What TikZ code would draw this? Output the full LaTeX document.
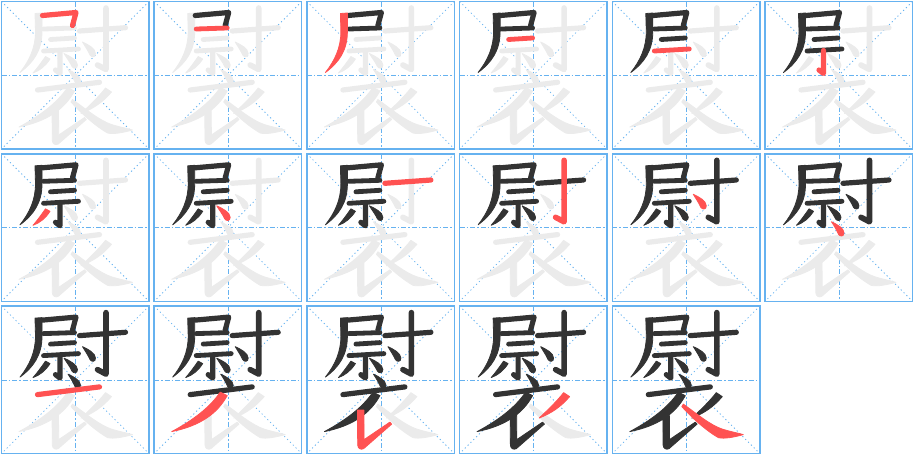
\documentclass[tikz,border=0pt]{standalone}
\definecolor{gridc}{RGB}{102,178,240}
\definecolor{inkc}{RGB}{51,51,51}
\definecolor{redc}{RGB}{255,82,82}
\definecolor{bgc}{RGB}{235,235,235}
\tikzset{
  ln/.style={line width=5.2pt, line cap=round, line join=round},
  fl/.style={fill, line width=0.8pt, line join=round},
  s1/.style={ln, insert path={(41,14) -- (74.5,11) -- (71,24)}},
  s2/.style={ln, line width=4.8pt, insert path={(42,27.5) -- (73,26.5)}},
  s3/.style={fl, insert path={(33.5,12) -- (40.5,11.5) -- (40.5,30) .. controls (40.5,49) and (32,61) .. (18.5,71) .. controls (28,59) and (34,46) .. (34,30) -- cycle}},
  s4/.style={ln, line width=4.8pt, insert path={(49,38) -- (73,36.5)}},
  s5/.style={ln, line width=4.8pt, insert path={(42,49.5) -- (77,47.5)}},
  s6/.style={ln, insert path={(58.5,49) -- (58.5,72) -- (54,68.5)}},
  s7/.style={fl, insert path={(44,55) -- (48.5,57.5) .. controls (44,64.5) and (38.5,69) .. (31.5,71.5) .. controls (35.5,67) and (39.5,61.5) .. (44,55) -- cycle}},
  s8/.style={fl, insert path={(62.5,52) .. controls (68,54.5) and (76,58.5) .. (76,63.5) .. controls (76,67.5) and (72,67.5) .. (70.5,65) .. controls (68.5,60.5) and (65.5,57) .. (62.5,52) -- cycle}},
  s9/.style={ln, insert path={(78,29.5) -- (124,26.2)}},
  s10/.style={ln, line width=5.6pt, insert path={(104.5,6.5) -- (104.5,68) -- (96,63.5)}},
  s11/.style={fl, insert path={(81,40.5) .. controls (86.5,43) and (94,47) .. (94,52) .. controls (94,56) and (90,56) .. (88.5,53.5) .. controls (86.5,49) and (84,45.5) .. (81,40.5) -- cycle}},
  s12/.style={fl, insert path={(66.5,68) .. controls (72,70.5) and (79,74.5) .. (79,79) .. controls (79,83) and (75,83) .. (73.5,80.5) .. controls (71.5,76) and (69.5,72.5) .. (66.5,68) -- cycle}},
  s13/.style={ln, insert path={(36,88.5) -- (98,80.8)}},
  s14/.style={fl, insert path={(66,86) -- (73,89.5) .. controls (63,108) and (45,120) .. (17.5,125.5) .. controls (39,114) and (56,101) .. (66,86) -- cycle}},
  s15/.style={fl, insert path={(50.5,104) -- (57,104) -- (57.2,133.5) -- (83,116) -- (84.8,118) -- (56.8,142.5) .. controls (54,144) and (51,142.5) .. (50.8,139) -- cycle}},
  s16/.style={fl, insert path={(104,86.5) -- (110,90.5) .. controls (101,101) and (92,107) .. (79.5,112) .. controls (88,104) and (97,95.5) .. (104,86.5) -- cycle}},
  s17/.style={fl, insert path={(71,98) .. controls (85,108) and (98,119) .. (110,123) .. controls (118,125.5) and (126,127) .. (131,128.5) .. controls (122,131) and (112,133) .. (106,131.5) .. controls (93,124) and (79,111) .. (69.5,100.5) -- cycle}},
  frame/.style={gridc, line width=1.5pt},
  midline/.style={gridc, line width=0.8pt, dash pattern=on 5pt off 2pt on 1.5pt off 2pt},
  diagline/.style={gridc, line width=0.8pt, dash pattern=on 1.2pt off 2.8pt}
}
\begin{document}
\begin{tikzpicture}[x=1pt,y=-1pt]
\useasboundingbox (0,0) rectangle (915,456);
\foreach \k in {1,...,17}{
  \pgfmathtruncatemacro\cc{mod(\k-1,6)}
  \pgfmathtruncatemacro\rr{div(\k-1,6)}
  \begin{scope}[shift={(1.5+152.7*\cc,1.5+152.3*\rr)}]
    \draw[frame] (0,0) rectangle (147.5,147.5);
    \draw[midline] (74,0) -- (74,147.5) (0,74) -- (147.5,74);
    \draw[diagline] (0,0) -- (147.5,147.5) (147.5,0) -- (0,147.5);
    \foreach \i in {1,...,17}{
      \ifnum\i>\k \draw[color=bgc, s\i]; \fi
    }
    \foreach \i in {1,...,17}{
      \ifnum\i<\k \draw[color=inkc, s\i]; \fi
      \ifnum\i=\k \draw[color=redc, s\i]; \fi
    }
  \end{scope}
}
\end{tikzpicture}
\end{document}
